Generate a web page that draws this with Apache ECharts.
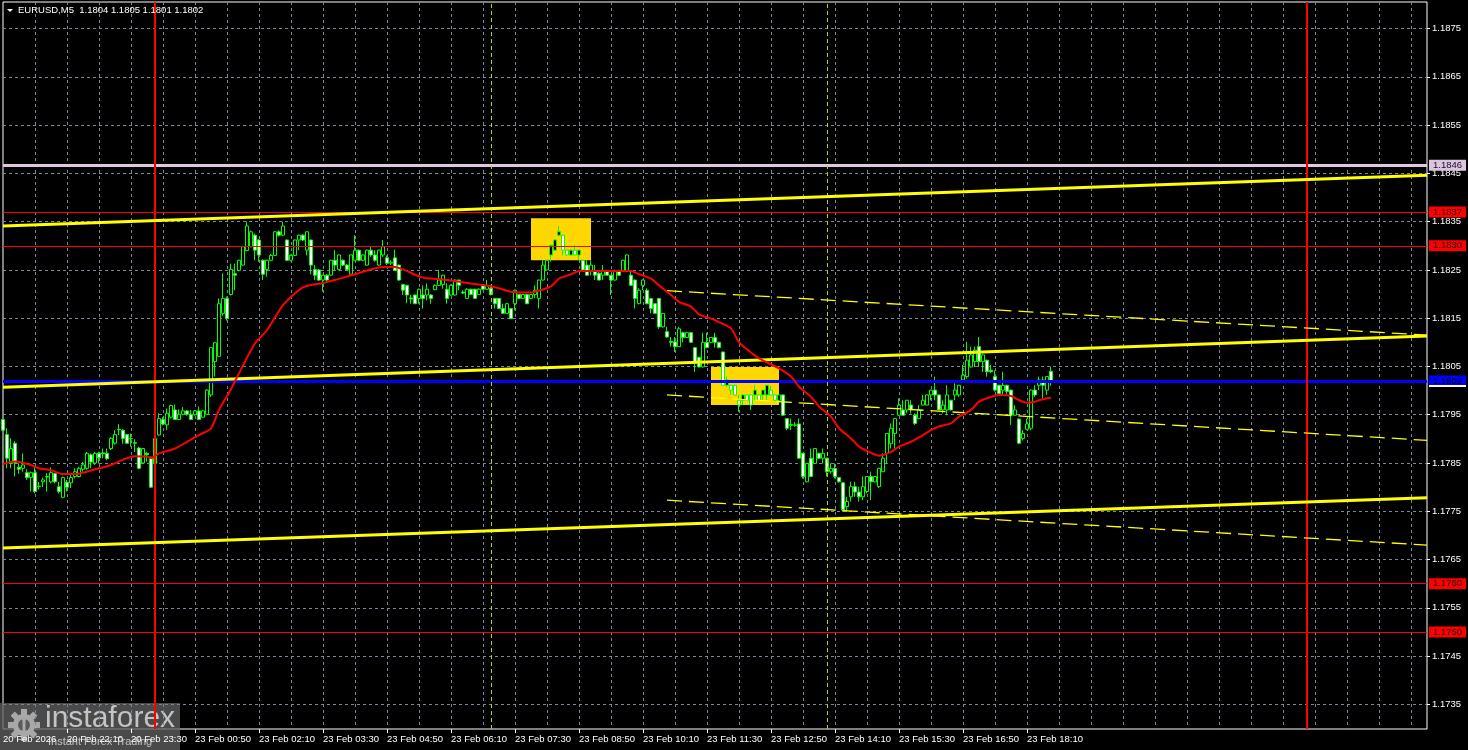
<!DOCTYPE html>
<html><head><meta charset="utf-8">
<script src="https://cdn.jsdelivr.net/npm/echarts@6/dist/echarts.min.js"></script>
<style>html,body{margin:0;padding:0;background:#000;}#c{width:1468px;height:750px;}</style>
</head><body><div id="c"></div>
<script>
const titleText = 'EURUSD,M5  1.1804 1.1805 1.1801 1.1802';
const xTickLabels = ['20 Feb 2026','20 Feb 22:10','20 Feb 23:30','23 Feb 00:50','23 Feb 02:10','23 Feb 03:30','23 Feb 04:50','23 Feb 06:10','23 Feb 07:30','23 Feb 08:50','23 Feb 10:10','23 Feb 11:30','23 Feb 12:50','23 Feb 14:10','23 Feb 15:30','23 Feb 16:50','23 Feb 18:10'];
const yTickLabels = [1.1735,1.1745,1.1755,1.1765,1.1775,1.1785,1.1795,1.1805,1.1815,1.1825,1.1835,1.1845,1.1855,1.1865,1.1875];
const slotCount = 357;
// candles: [open, close, low, high]
const candles = [
[1.17940,1.17918,1.17915,1.17942],[1.17909,1.17860,1.17839,1.17922],[1.17849,1.17880,1.17839,1.17901],[1.17891,1.17850,1.17822,1.17895],
[1.17841,1.17837,1.17828,1.17849],[1.17839,1.17846,1.17832,1.17870],[1.17830,1.17820,1.17815,1.17837],[1.17820,1.17830,1.17791,1.17832],
[1.17830,1.17791,1.17787,1.17841],[1.17801,1.17802,1.17795,1.17811],[1.17811,1.17815,1.17800,1.17820],[1.17821,1.17822,1.17791,1.17829],
[1.17811,1.17830,1.17808,1.17841],[1.17828,1.17811,1.17808,1.17829],[1.17801,1.17791,1.17787,1.17811],[1.17779,1.17820,1.17777,1.17822],
[1.17810,1.17800,1.17791,1.17815],[1.17809,1.17820,1.17798,1.17829],[1.17822,1.17832,1.17818,1.17839],[1.17822,1.17839,1.17820,1.17842],
[1.17837,1.17846,1.17832,1.17852],[1.17839,1.17870,1.17835,1.17873],[1.17867,1.17852,1.17839,1.17870],[1.17850,1.17870,1.17846,1.17873],
[1.17870,1.17861,1.17849,1.17873],[1.17871,1.17869,1.17860,1.17880],[1.17870,1.17859,1.17856,1.17880],[1.17880,1.17901,1.17877,1.17904],
[1.17891,1.17909,1.17888,1.17918],[1.17920,1.17919,1.17908,1.17931],[1.17918,1.17901,1.17890,1.17920],[1.17909,1.17891,1.17890,1.17910],
[1.17900,1.17901,1.17884,1.17911],[1.17892,1.17891,1.17873,1.17899],[1.17881,1.17839,1.17837,1.17884],[1.17850,1.17880,1.17848,1.17881],
[1.17870,1.17867,1.17853,1.17873],[1.17862,1.17800,1.17798,1.17863],[1.17849,1.17901,1.17845,1.17905],[1.17908,1.17942,1.17907,1.17953],
[1.17940,1.17931,1.17928,1.17945],[1.17929,1.17953,1.17918,1.17963],[1.17945,1.17969,1.17942,1.17971],[1.17960,1.17940,1.17939,1.17971],
[1.17940,1.17951,1.17939,1.17961],[1.17951,1.17958,1.17949,1.17966],[1.17958,1.17951,1.17948,1.17960],[1.17951,1.17940,1.17939,1.17960],
[1.17950,1.17958,1.17948,1.17960],[1.17958,1.17940,1.17939,1.17967],[1.17945,1.17958,1.17944,1.17960],[1.17951,1.18001,1.17950,1.18003],
[1.17991,1.18089,1.17987,1.18090],[1.18060,1.18099,1.18029,1.18101],[1.18071,1.18180,1.18070,1.18191],[1.18160,1.18191,1.18155,1.18243],
[1.18191,1.18149,1.18145,1.18195],[1.18199,1.18251,1.18197,1.18263],[1.18242,1.18239,1.18208,1.18263],[1.18249,1.18270,1.18247,1.18271],
[1.18260,1.18298,1.18259,1.18300],[1.18290,1.18341,1.18289,1.18350],[1.18298,1.18329,1.18297,1.18332],[1.18322,1.18291,1.18270,1.18325],
[1.18312,1.18281,1.18267,1.18314],[1.18270,1.18241,1.18229,1.18272],[1.18251,1.18270,1.18236,1.18271],[1.18270,1.18280,1.18268,1.18283],
[1.18280,1.18329,1.18279,1.18330],[1.18329,1.18322,1.18319,1.18332],[1.18322,1.18341,1.18320,1.18350],[1.18312,1.18270,1.18268,1.18313],
[1.18270,1.18280,1.18268,1.18282],[1.18280,1.18312,1.18279,1.18313],[1.18312,1.18322,1.18291,1.18323],[1.18322,1.18312,1.18310,1.18324],
[1.18291,1.18329,1.18280,1.18330],[1.18312,1.18260,1.18241,1.18313],[1.18251,1.18239,1.18229,1.18260],[1.18250,1.18229,1.18227,1.18252],
[1.18229,1.18239,1.18205,1.18240],[1.18239,1.18229,1.18227,1.18241],[1.18239,1.18270,1.18238,1.18271],[1.18270,1.18260,1.18249,1.18291],
[1.18251,1.18281,1.18249,1.18282],[1.18270,1.18260,1.18258,1.18272],[1.18260,1.18251,1.18249,1.18262],[1.18241,1.18281,1.18239,1.18282],
[1.18270,1.18291,1.18269,1.18322],[1.18291,1.18270,1.18268,1.18292],[1.18270,1.18281,1.18268,1.18282],[1.18260,1.18291,1.18259,1.18292],
[1.18291,1.18281,1.18277,1.18298],[1.18281,1.18270,1.18267,1.18291],[1.18260,1.18291,1.18259,1.18292],[1.18281,1.18298,1.18277,1.18312],
[1.18275,1.18264,1.18260,1.18280],[1.18264,1.18266,1.18260,1.18270],[1.18275,1.18249,1.18248,1.18292],[1.18260,1.18229,1.18227,1.18261],
[1.18220,1.18208,1.18198,1.18221],[1.18218,1.18198,1.18181,1.18219],[1.18192,1.18190,1.18180,1.18198],[1.18198,1.18180,1.18179,1.18199],
[1.18191,1.18210,1.18180,1.18211],[1.18198,1.18191,1.18170,1.18218],[1.18198,1.18210,1.18187,1.18222],[1.18198,1.18191,1.18180,1.18200],
[1.18209,1.18218,1.18208,1.18220],[1.18218,1.18229,1.18217,1.18250],[1.18220,1.18239,1.18211,1.18240],[1.18210,1.18191,1.18180,1.18222],
[1.18198,1.18218,1.18197,1.18220],[1.18198,1.18229,1.18197,1.18230],[1.18229,1.18218,1.18208,1.18230],[1.18204,1.18202,1.18200,1.18208],
[1.18191,1.18210,1.18190,1.18212],[1.18210,1.18199,1.18198,1.18211],[1.18210,1.18191,1.18190,1.18211],[1.18199,1.18210,1.18198,1.18212],
[1.18219,1.18210,1.18208,1.18220],[1.18210,1.18218,1.18209,1.18229],[1.18212,1.18199,1.18197,1.18218],[1.18191,1.18180,1.18170,1.18192],
[1.18191,1.18170,1.18169,1.18192],[1.18170,1.18160,1.18159,1.18180],[1.18160,1.18180,1.18159,1.18181],[1.18170,1.18149,1.18148,1.18171],
[1.18180,1.18208,1.18166,1.18209],[1.18199,1.18191,1.18190,1.18200],[1.18191,1.18199,1.18190,1.18200],[1.18199,1.18180,1.18179,1.18200],
[1.18191,1.18199,1.18190,1.18200],[1.18199,1.18208,1.18191,1.18218],[1.18191,1.18229,1.18170,1.18230],[1.18229,1.18260,1.18228,1.18270],
[1.18250,1.18270,1.18249,1.18271],[1.18281,1.18301,1.18267,1.18302],[1.18291,1.18312,1.18290,1.18313],[1.18322,1.18329,1.18321,1.18341],
[1.18322,1.18291,1.18280,1.18323],[1.18291,1.18281,1.18280,1.18292],[1.18281,1.18291,1.18280,1.18292],[1.18291,1.18281,1.18280,1.18301],
[1.18281,1.18291,1.18270,1.18292],[1.18270,1.18250,1.18249,1.18271],[1.18260,1.18239,1.18238,1.18270],[1.18249,1.18260,1.18239,1.18270],
[1.18249,1.18239,1.18229,1.18260],[1.18243,1.18229,1.18228,1.18249],[1.18239,1.18249,1.18229,1.18260],[1.18249,1.18239,1.18238,1.18250],
[1.18239,1.18229,1.18198,1.18240],[1.18229,1.18249,1.18228,1.18250],[1.18249,1.18239,1.18238,1.18250],[1.18249,1.18270,1.18246,1.18271],
[1.18249,1.18281,1.18248,1.18282],[1.18239,1.18218,1.18217,1.18249],[1.18229,1.18191,1.18170,1.18230],[1.18180,1.18208,1.18179,1.18212],
[1.18218,1.18229,1.18208,1.18230],[1.18208,1.18180,1.18179,1.18212],[1.18191,1.18170,1.18160,1.18192],[1.18180,1.18160,1.18159,1.18181],
[1.18191,1.18132,1.18128,1.18192],[1.18132,1.18160,1.18131,1.18161],[1.18122,1.18111,1.18110,1.18132],[1.18102,1.18100,1.18091,1.18111],
[1.18101,1.18091,1.18080,1.18111],[1.18091,1.18128,1.18090,1.18132],[1.18120,1.18110,1.18100,1.18122],[1.18110,1.18120,1.18109,1.18122],
[1.18120,1.18100,1.18099,1.18121],[1.18089,1.18058,1.18039,1.18090],[1.18069,1.18049,1.18048,1.18070],[1.18049,1.18100,1.18048,1.18120],
[1.18100,1.18089,1.18088,1.18120],[1.18100,1.18110,1.18099,1.18111],[1.18110,1.18100,1.18089,1.18120],[1.18100,1.18089,1.18088,1.18101],
[1.18080,1.18011,1.18010,1.18081],[1.18011,1.18022,1.18008,1.18029],[1.18011,1.18001,1.17991,1.18012],[1.18011,1.17991,1.17990,1.18012],
[1.17980,1.17970,1.17956,1.17991],[1.17980,1.17991,1.17970,1.17992],[1.17991,1.17980,1.17979,1.17992],[1.17991,1.17970,1.17960,1.17992],
[1.17991,1.18001,1.17980,1.18011],[1.17991,1.17980,1.17979,1.17992],[1.17991,1.18001,1.17980,1.18002],[1.17991,1.18011,1.17980,1.18012],
[1.18001,1.17991,1.17990,1.18010],[1.17991,1.17980,1.17979,1.17992],[1.17980,1.17991,1.17979,1.17992],[1.17991,1.17949,1.17948,1.17992],
[1.17942,1.17922,1.17918,1.17943],[1.17930,1.17928,1.17918,1.17942],[1.17928,1.17929,1.17925,1.17935],[1.17931,1.17860,1.17859,1.17942],
[1.17870,1.17822,1.17818,1.17871],[1.17811,1.17849,1.17810,1.17850],[1.17860,1.17822,1.17821,1.17880],[1.17849,1.17880,1.17848,1.17881],
[1.17870,1.17860,1.17859,1.17871],[1.17860,1.17870,1.17849,1.17880],[1.17860,1.17832,1.17822,1.17861],[1.17832,1.17839,1.17828,1.17849],
[1.17839,1.17822,1.17818,1.17849],[1.17820,1.17811,1.17810,1.17821],[1.17809,1.17753,1.17749,1.17810],[1.17760,1.17770,1.17749,1.17780],
[1.17780,1.17801,1.17770,1.17811],[1.17801,1.17790,1.17780,1.17811],[1.17790,1.17780,1.17770,1.17801],[1.17780,1.17801,1.17773,1.17822],
[1.17791,1.17822,1.17787,1.17823],[1.17822,1.17811,1.17773,1.17832],[1.17811,1.17822,1.17810,1.17823],[1.17801,1.17839,1.17798,1.17840],
[1.17832,1.17860,1.17831,1.17870],[1.17870,1.17911,1.17849,1.17912],[1.17890,1.17922,1.17880,1.17932],[1.17911,1.17942,1.17880,1.17943],
[1.17949,1.17970,1.17948,1.17984],[1.17960,1.17949,1.17948,1.17980],[1.17960,1.17980,1.17953,1.17981],[1.17970,1.17960,1.17953,1.17980],
[1.17949,1.17932,1.17929,1.17953],[1.17942,1.17960,1.17941,1.17970],[1.17970,1.17980,1.17969,1.17991],[1.17970,1.17991,1.17969,1.17992],
[1.17991,1.18001,1.17980,1.18002],[1.18001,1.17991,1.17980,1.18029],[1.17991,1.17960,1.17959,1.17992],[1.17960,1.17970,1.17953,1.17980],
[1.17960,1.17991,1.17949,1.18011],[1.17980,1.17960,1.17959,1.17981],[1.17991,1.18001,1.17980,1.18015],[1.17991,1.18011,1.17987,1.18012],
[1.18022,1.18032,1.18018,1.18053],[1.18029,1.18063,1.18025,1.18101],[1.18049,1.18074,1.18048,1.18091],[1.18060,1.18084,1.18049,1.18091],
[1.18091,1.18060,1.18049,1.18111],[1.18060,1.18074,1.18039,1.18075],[1.18063,1.18039,1.18029,1.18064],[1.18042,1.18039,1.18036,1.18053],
[1.18029,1.18001,1.17998,1.18042],[1.18011,1.17994,1.17991,1.18012],[1.18001,1.18011,1.17991,1.18039],[1.18011,1.17998,1.17991,1.18012],
[1.18001,1.17949,1.17929,1.18002],[1.17949,1.17960,1.17948,1.17970],[1.17941,1.17891,1.17889,1.17942],[1.17901,1.17911,1.17897,1.17918],
[1.17920,1.17931,1.17918,1.17942],[1.17922,1.18001,1.17918,1.18002],[1.18001,1.17991,1.17987,1.18011],[1.18011,1.18022,1.18001,1.18029],
[1.18022,1.18011,1.17984,1.18029],[1.18001,1.18029,1.17991,1.18030],[1.18040,1.18020,1.18010,1.18050]
];
// moving average read at sampled bars: [barIndex, value]
const maPoints = [
[0,1.17848],[3,1.17853],[7,1.17846],[9,1.17839],[12,1.17835],[15,1.17827],[18,1.17827],[21,1.17832],[24,1.17839],[27,1.17846],
[30,1.17857],[33,1.17864],[36,1.17863],[37,1.17860],[39,1.17870],[43,1.17880],[46,1.17894],[49,1.17908],[52,1.17922],[54,1.17960],
[57,1.18003],[59,1.18036],[63,1.18098],[66,1.18125],[70,1.18177],[75,1.18214],[80,1.18223],[83,1.18229],[88,1.18241],[95,1.18256],
[98,1.18256],[100,1.18251],[105,1.18234],[109,1.18231],[112,1.18228],[117,1.18222],[122,1.18216],[124,1.18212],[127,1.18205],[132,1.18203],
[134,1.18207],[137,1.18216],[139,1.18232],[142,1.18241],[144,1.18248],[147,1.18248],[152,1.18248],[157,1.18248],[159,1.18241],[162,1.18232],
[164,1.18218],[167,1.18198],[169,1.18184],[172,1.18174],[174,1.18158],[177,1.18149],[179,1.18142],[182,1.18129],[184,1.18100],[187,1.18079],
[189,1.18067],[194,1.18046],[197,1.18029],[199,1.18008],[202,1.17987],[204,1.17967],[207,1.17946],[209,1.17922],[212,1.17901],[214,1.17884],
[217,1.17871],[219,1.17865],[222,1.17873],[224,1.17884],[227,1.17894],[229,1.17903],[232,1.17918],[234,1.17926],[237,1.17932],[239,1.17946],
[242,1.17960],[244,1.17977],[247,1.17987],[249,1.17991],[252,1.17989],[254,1.17980],[256,1.17975],[258,1.17977],[259,1.17980],[261,1.17984],[262,1.17985]
];
// trend channel (solid): [startBar, startValue, endBar, endValue]
const channelSolid = [[0,1.18341,356,1.18446],[0,1.18007,356,1.18113],[0,1.17674,356,1.17778]];
// regression channel (dashed)
const channelDashed = [[166,1.18207,356,1.18115],[166,1.17991,356,1.17897],[166,1.17773,356,1.17680]];
// highlighted zones: [fromBar, toBar, top, bottom]
const zones = [[132,147,1.18357,1.18270],[177,194,1.18049,1.17970]];
const supportResistance = [1.1837, 1.1830, 1.1760, 1.1750];
const pinkLevel = 1.18467;
const pinkLevelLabel = '1.1846';
const currentPrice = 1.1802;
const dayLines = [38, 326];
const sessionLines = [122, 206];

const FONT = "'Liberation Sans', Arial, sans-serif";
// time categories (5-minute bars; weekend gap after Fri 23:55)
const categories = [];
{
  let d = 20, h = 20, m = 50;
  for (let i = 0; i < slotCount; i++) {
    categories.push(d + ' Feb ' + String(h).padStart(2,'0') + ':' + String(m).padStart(2,'0'));
    m += 5; if (m >= 60) { m = 0; h++; } if (h >= 24) { h = 0; d = (d === 20) ? 23 : d + 1; }
  }
}

const chart = echarts.init(document.getElementById('c'), null, {renderer: 'canvas'});
const lineSeries = (pts, style, z) => ({type:'line', data: pts, showSymbol:false, symbol:'none', silent:true, animation:false, lineStyle: style, z: z});

const series = [];
series.push({
  type:'custom', z:1, silent:true, animation:false,
  encode:{x:[0,1], y:[2,3]},
  data: zones,
  renderItem: (params, api) => {
    const p1 = api.coord([api.value(0), api.value(2)]);
    const p2 = api.coord([api.value(1), api.value(3)]);
    return {type:'rect', shape:{x:p1[0], y:p1[1], width:p2[0]-p1[0], height:p2[1]-p1[1]}, style:{fill:'#ffd700'}};
  }
});
series.push({
  type:'candlestick', data: candles, barWidth: 3, z:3, silent:true, animation:false,
  itemStyle:{color:'#000000', color0:'#ffffff', borderColor:'#00ff00', borderColor0:'#00ff00', borderColorDoji:'#00ff00', borderWidth:1}
});
channelSolid.forEach(c => series.push(lineSeries([[c[0],c[1]],[c[2],c[3]]], {color:'#ffff00', width:3}, 5)));
channelDashed.forEach(c => series.push(lineSeries([[c[0],c[1]],[c[2],c[3]]], {color:'#ffff00', width:1.3, type:[15,7]}, 5)));
series.push(lineSeries(maPoints, {color:'#ff0000', width:2}, 6));
series[series.length-1].smooth = 0.25;

const boxLabel = (bg, fg, text) => ({show:true, position:'end', distance:2, formatter: p => text || Number(p.value).toFixed(4),
  backgroundColor:bg, color:fg, padding:[1,4,0,4], fontSize:9.5, fontFamily:FONT, lineHeight:10});
const levelData = [];
supportResistance.forEach(v => levelData.push({yAxis:v, lineStyle:{color:'#ff0000', width:1, type:'solid'}, label: boxLabel('#ff0000','#200000')}));
levelData.push({yAxis:pinkLevel, lineStyle:{color:'#e0c8e0', width:3, type:'solid'}, label: boxLabel('#dcc4dc','#101030', pinkLevelLabel)});
levelData.push({yAxis:currentPrice, lineStyle:{color:'#0000ff', width:3, type:'solid'}, label: boxLabel('#0000ff','#000010')});
dayLines.forEach(v => levelData.push({xAxis:v, lineStyle:{color:'#ff0000', width:2, type:'solid'}, label:{show:false}}));
sessionLines.forEach(v => levelData.push({xAxis:v, lineStyle:{color:'#a8e000', width:1, type:[4,3]}, label:{show:false}}));
series.push({type:'line', data:[], z:7, silent:true, animation:false,
  markLine:{symbol:['none','none'], silent:true, animation:false, precision:5, data: levelData}});

const gearTeeth = [];
for (let k = 0; k < 8; k++) {
  gearTeeth.push({type:'rect', shape:{x:-3, y:-16, width:6, height:7}, rotation: k*Math.PI/4, x:24, y:725, style:{fill:'#a8a8a8'}});
}

chart.setOption({
  backgroundColor:'#000000',
  animation:false,
  grid:{left:3, right:41, top:2, bottom:21, show:true, borderColor:'#ffffff', borderWidth:1, backgroundColor:'#000000'},
  xAxis:{
    type:'category', data:categories, boundaryGap:false,
    axisLine:{show:false},
    axisTick:{show:true, interval:(i) => i % 16 === 0 && i > 0 && i <= 256, length:4, lineStyle:{color:'#ffffff'}},
    axisLabel:{interval:(i) => i % 16 === 0 && i <= 256, formatter:(v, i) => xTickLabels[i/16] || '', color:'#ffffff', fontSize:9.5, fontFamily:FONT, align:'left', margin:5},
    splitLine:{show:true, interval:(i) => i % 8 === 0 && i > 0, lineStyle:{color:'#778899', width:1, type:[3,3]}}
  },
  yAxis:{
    type:'value', position:'right', min:1.17299, max:1.18805, scale:true,
    axisLine:{show:false},
    axisTick:{show:true, customValues:yTickLabels, length:3, lineStyle:{color:'#ffffff'}},
    axisLabel:{customValues:yTickLabels, formatter:v => Number(v).toFixed(4), color:'#ffffff', fontSize:9.5, fontFamily:FONT, margin:5},
    splitLine:{show:true, lineStyle:{color:'#778899', width:1, type:[3,3]}}
  },
  series: series,
  graphic:[
    {type:'polygon', shape:{points:[[7,9],[13,9],[10,12]]}, style:{fill:'#ffffff'}, z:100},
    {type:'text', left:18, top:5, style:{text:titleText, fill:'#ffffff', font:'9.5px ' + FONT}, z:100},
    {type:'rect', shape:{x:1429, y:385, width:37, height:2}, style:{fill:'#ffffff'}, z:100},
    {type:'group', z:100, children:[
      {type:'rect', shape:{x:0, y:703, width:180, height:47}, style:{fill:'rgba(95,95,95,0.78)'}},
      ...gearTeeth,
      {type:'circle', shape:{cx:24, cy:725, r:11}, style:{fill:'#a8a8a8'}},
      {type:'circle', shape:{cx:24, cy:725, r:6}, style:{fill:'#5a5a5a'}},
      {type:'rect', shape:{x:22.5, y:721, width:3, height:12}, style:{fill:'#a8a8a8'}},
      {type:'circle', shape:{cx:24, cy:719.5, r:2}, style:{fill:'#a8a8a8'}},
      {type:'text', x:45, y:704, style:{text:'instaforex', fill:'#c4c4c4', font:'30px ' + FONT}},
      {type:'text', x:48, y:736, style:{text:'Instant Forex Trading', fill:'#c4c4c4', font:'11px ' + FONT}}
    ]}
  ]
});
</script></body></html>
